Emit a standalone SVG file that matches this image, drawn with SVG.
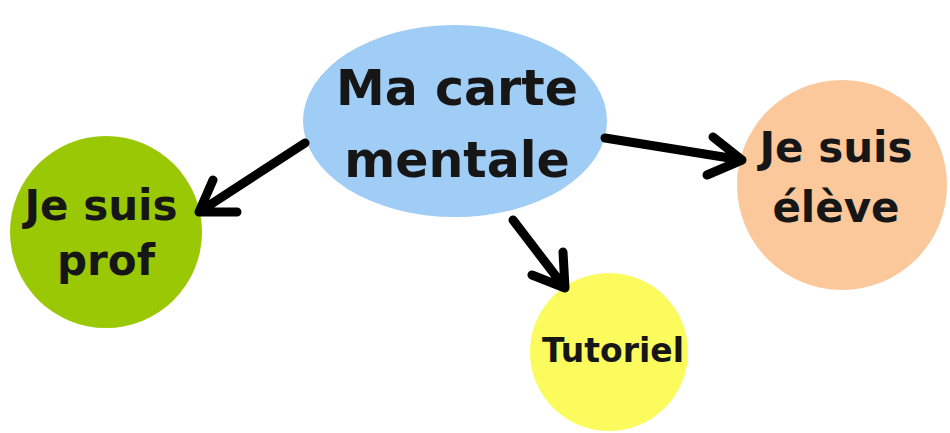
<svg xmlns="http://www.w3.org/2000/svg" width="950" height="433" viewBox="0 0 950 433">
<style>
.lbl{font-family:"DejaVu Sans",Verdana,sans-serif;font-weight:bold;fill:#161616;text-anchor:middle}
.arr{fill:none;stroke:#000;stroke-width:9;stroke-linecap:round;stroke-linejoin:round}
</style>
<rect width="950" height="433" fill="#ffffff"/>
<g id="center">
<ellipse cx="455" cy="121" rx="152" ry="96" fill="#a0cdf5"/>
<text class="lbl" x="457" y="105" font-size="49">Ma carte</text>
<text class="lbl" x="457" y="177" font-size="49">mentale</text>
</g>
<g id="prof">
<circle cx="106" cy="232" r="96" fill="#9bc805"/>
<text class="lbl" x="101" y="220" font-size="42">Je suis</text>
<text class="lbl" x="106" y="275" font-size="42">prof</text>
</g>
<g id="eleve">
<circle cx="842" cy="185" r="105" fill="#fac89a"/>
<text class="lbl" x="836" y="162" font-size="42">Je suis</text>
<text class="lbl" x="836" y="222" font-size="42">élève</text>
</g>
<g id="tutoriel">
<circle cx="609" cy="352" r="79" fill="#fbfb5e"/>
<text class="lbl" x="613" y="362" font-size="33">Tutoriel</text>
</g>
<g id="connectors">
<path class="arr" d="M305 143 L199 212 M213 180 L199 212 L237 212"/>
<path class="arr" d="M605 138 L742 160 M713 137 L742 160 L707 175"/>
<path class="arr" d="M513 220 L565 288 M563 252 L565 288 L532 275"/>
</g>
</svg>
